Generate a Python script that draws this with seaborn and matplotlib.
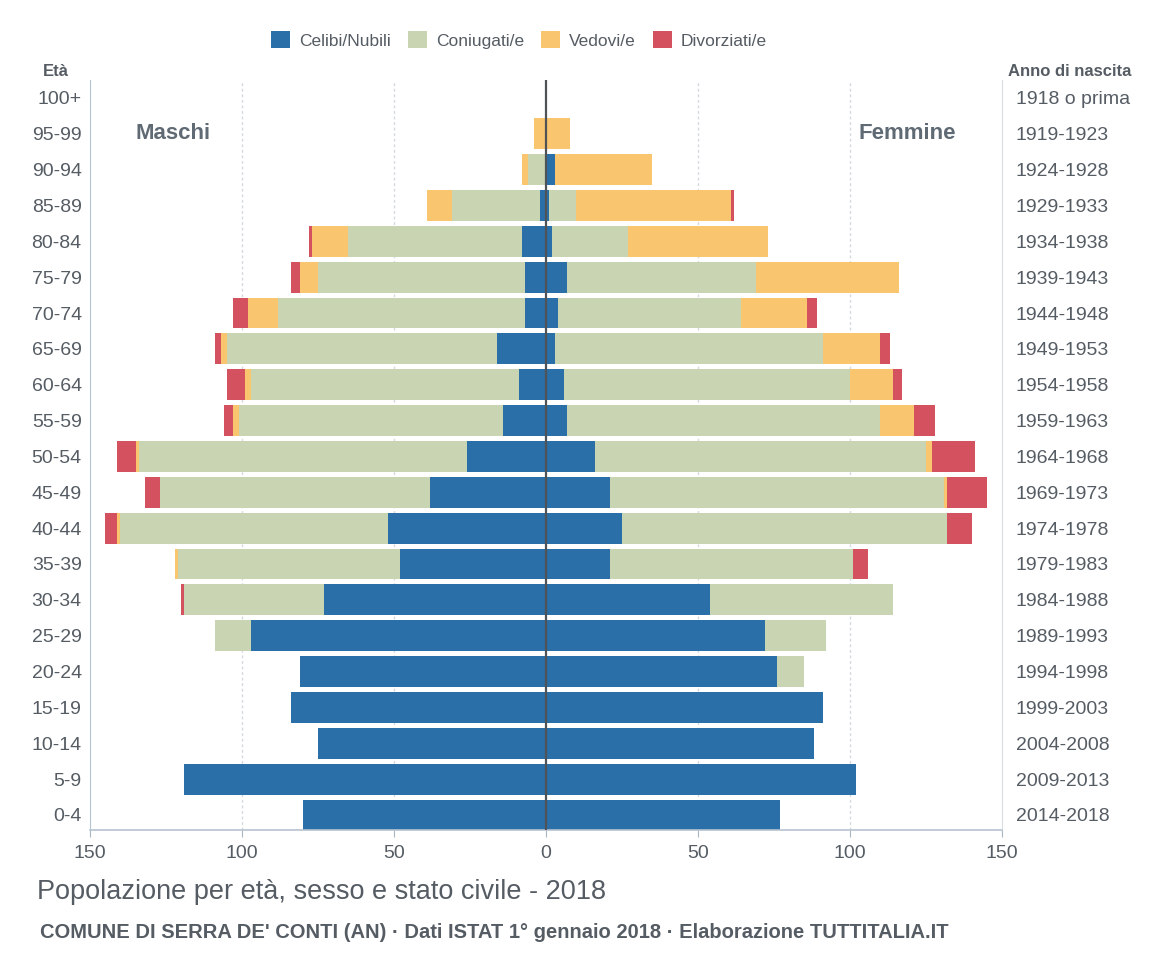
import numpy as np
import pandas as pd
import seaborn as sns
import matplotlib.pyplot as plt
from matplotlib.patches import Patch

# age classes, top to bottom
ages = ["100+", "95-99", "90-94", "85-89", "80-84", "75-79", "70-74", "65-69",
        "60-64", "55-59", "50-54", "45-49", "40-44", "35-39", "30-34", "25-29",
        "20-24", "15-19", "10-14", "5-9", "0-4"]
years = ["1918 o prima", "1919-1923", "1924-1928", "1929-1933", "1934-1938",
         "1939-1943", "1944-1948", "1949-1953", "1954-1958", "1959-1963",
         "1964-1968", "1969-1973", "1974-1978", "1979-1983", "1984-1988",
         "1989-1993", "1994-1998", "1999-2003", "2004-2008", "2009-2013",
         "2014-2018"]

status = ["Celibi/Nubili", "Coniugati/e", "Vedovi/e", "Divorziati/e"]
colors = ["#2a6fa8", "#c9d4b2", "#f9c56e", "#d4515f"]

# Maschi
m_celibi = [0, 0, 0, 2, 8, 7, 7, 16, 9, 14, 26, 38, 52, 48, 73, 97, 81, 84, 75, 119, 80]
m_coniug = [0, 0, 6, 29, 57, 68, 81, 89, 88, 87, 108, 89, 88, 73, 46, 12, 0, 0, 0, 0, 0]
m_vedovi = [0, 4, 2, 8, 12, 6, 10, 2, 2, 2, 1, 0, 1, 1, 0, 0, 0, 0, 0, 0, 0]
m_divorz = [0, 0, 0, 0, 1, 3, 5, 2, 6, 3, 6, 5, 4, 0, 1, 0, 0, 0, 0, 0, 0]

# Femmine
f_celibi = [0, 0, 3, 1, 2, 7, 4, 3, 6, 7, 16, 21, 25, 21, 54, 72, 76, 91, 88, 102, 77]
f_coniug = [0, 0, 0, 9, 25, 62, 60, 88, 94, 103, 109, 110, 107, 80, 60, 20, 9, 0, 0, 0, 0]
f_vedovi = [0, 8, 32, 51, 46, 47, 22, 19, 14, 11, 2, 1, 0, 0, 0, 0, 0, 0, 0, 0, 0]
f_divorz = [0, 0, 0, 1, 0, 0, 3, 3, 3, 7, 14, 13, 8, 5, 0, 0, 0, 0, 0, 0, 0]

txt = "#555c63"
plt.rcParams['font.family'] = ['Liberation Sans', 'DejaVu Sans']

fig = plt.figure(figsize=(11.69, 9.73), dpi=100)
ax = fig.add_axes([90 / 1169, 143 / 973, 912 / 1169, 750 / 973])

males = np.array([m_celibi, m_coniug, m_vedovi, m_divorz])
females = np.array([f_celibi, f_coniug, f_vedovi, f_divorz])

# stacked bars: draw cumulative totals from the outermost layer inward
for sign, data in [(-1, males), (1, females)]:
    cum = np.cumsum(data, axis=0)
    for i in range(3, -1, -1):
        df = pd.DataFrame({"eta": ages, "n": sign * cum[i]})
        sns.barplot(data=df, x="n", y="eta", order=ages, orient="h",
                    color=colors[i], saturation=1, width=0.86,
                    linewidth=0, ax=ax)

ax.set_xlim(-150, 150)
ax.set_ylim(20.42, -0.5)
ax.set_xticks([-150, -100, -50, 0, 50, 100, 150])
ax.set_xticklabels(["150", "100", "50", "0", "50", "100", "150"])
ax.set_xlabel("")
ax.set_ylabel("")
ax.tick_params(axis="x", colors="#aab6c2", labelcolor=txt, labelsize=14,
               length=5, pad=6)
ax.tick_params(axis="y", length=0, labelsize=14, labelcolor=txt, pad=6)

for x in [-100, -50, 50, 100]:
    ax.axvline(x, color="#d3d9df", lw=1, ls=(0, (2, 2)), zorder=0)
ax.axvline(0, color="#4f5358", lw=1.6, zorder=5)

ax.spines["top"].set_visible(False)
ax.spines["left"].set_color("#b6c3d0")
ax.spines["left"].set_linestyle((0, (3, 1)))
ax.spines["right"].set_color("#d7dde3")
ax.spines["bottom"].set_color("#b6c3d0")
ax.spines["bottom"].set_linewidth(1.2)

ax2 = ax.twinx()
ax2.set_ylim(ax.get_ylim())
ax2.set_yticks(range(len(years)))
ax2.set_yticklabels(years)
ax2.tick_params(axis="y", length=0, labelsize=14, labelcolor=txt, pad=10)
for s in ax2.spines.values():
    s.set_visible(False)

ax.text(-135, 1, "Maschi", fontsize=16, fontweight="bold", color="#5f6a74",
        va="center", ha="left")
ax.text(135, 1, "Femmine", fontsize=16, fontweight="bold", color="#5f6a74",
        va="center", ha="right")

fig.text(56 / 1169, 1 - 72 / 973, "Età", fontsize=12, fontweight="bold",
         color=txt, ha="center", va="center")
fig.text(1070 / 1169, 1 - 72 / 973, "Anno di nascita", fontsize=12,
         fontweight="bold", color=txt, ha="center", va="center")

handles = [Patch(facecolor=c, edgecolor="none", label=l) for c, l in zip(colors, status)]
fig.legend(handles=handles, loc="center", bbox_to_anchor=(519 / 1169, 1 - 40 / 973),
           ncol=4, frameon=False, fontsize=12.5, handlelength=1.1, handleheight=1.1,
           columnspacing=1.0, handletextpad=0.5, labelcolor=txt)

fig.text(37 / 1169, 1 - 892 / 973, "Popolazione per età, sesso e stato civile - 2018",
         fontsize=19.5, color=txt, va="center", ha="left")
fig.text(40 / 1169, 1 - 933 / 973,
         "COMUNE DI SERRA DE' CONTI (AN) · Dati ISTAT 1° gennaio 2018 · Elaborazione TUTTITALIA.IT",
         fontsize=14.5, fontweight="bold", color=txt, va="center", ha="left")

fig.savefig("out.png", dpi=100, facecolor="white")
